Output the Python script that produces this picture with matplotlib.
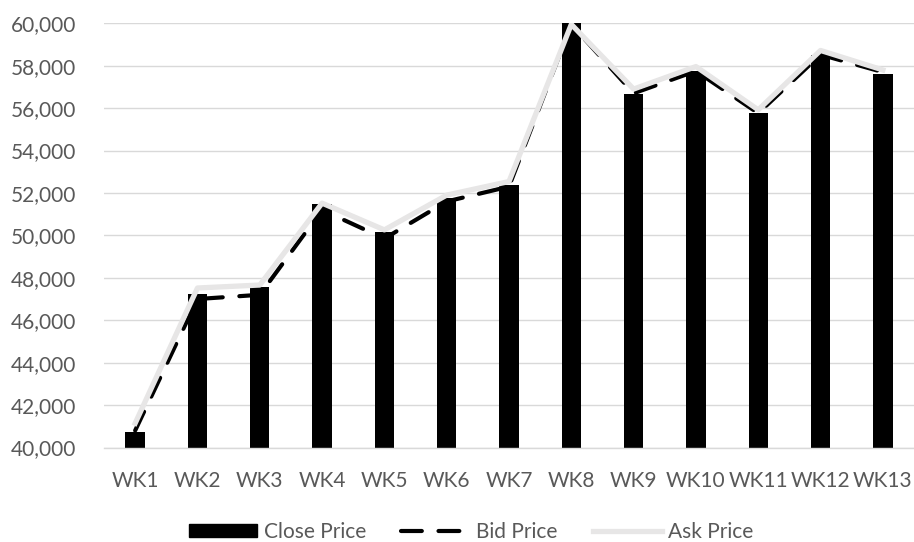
import matplotlib
matplotlib.use("Agg")
import matplotlib.pyplot as plt
from matplotlib.patches import Rectangle
from matplotlib.lines import Line2D
from matplotlib.ticker import FuncFormatter

weeks = ["WK1", "WK2", "WK3", "WK4", "WK5", "WK6", "WK7",
         "WK8", "WK9", "WK10", "WK11", "WK12", "WK13"]
close_price = [40750, 47240, 47560, 51490, 50150, 51750, 52380,
               60000, 56660, 57730, 55760, 58510, 57620]
bid_price = [40800, 47000, 47200, 51200, 49850, 51600, 52300,
             59950, 56700, 57750, 55760, 58520, 57700]
ask_price = [41140, 47520, 47660, 51520, 50260, 51900, 52540,
             59950, 56900, 57960, 55920, 58720, 57800]

plt.rcParams["font.family"] = ["Lato", "DejaVu Sans"]
text_color = "#595959"
grid_color = "#d9d9d9"
ask_color = "#e7e6e6"
bid_dashes = (5.0, 4.0)

fig = plt.figure(figsize=(9.14, 5.42), dpi=100)
ax = fig.add_axes([104 / 914, 94.5 / 542, 810 / 914, 424.2 / 542])

x = list(range(len(weeks)))
ax.bar(x, close_price, width=0.31, color="black", zorder=2)
ax.plot(x, bid_price, color="black", lw=3.0, zorder=3,
        dashes=bid_dashes, dash_capstyle="round")
ax.plot(x, ask_price, color=ask_color, lw=3.8, zorder=4)

ax.set_xlim(-0.5, len(weeks) - 0.5)
ax.set_ylim(40000, 60000)
ax.set_yticks(range(40000, 60001, 2000))
ax.yaxis.set_major_formatter(FuncFormatter(lambda v, p: f"{int(v):,}"))
ax.set_xticks(x)
ax.set_xticklabels(weeks)

ax.grid(axis="y", color=grid_color, lw=1.0, zorder=0)
ax.set_axisbelow(True)
for side in ("left", "right", "top"):
    ax.spines[side].set_visible(False)
ax.spines["bottom"].set_color(grid_color)
ax.spines["bottom"].set_linewidth(1.0)
ax.tick_params(axis="both", length=0, labelsize=15, labelcolor=text_color)
ax.tick_params(axis="y", pad=20)
ax.tick_params(axis="x", pad=17)

handles = [
    Rectangle((0, 0), 1, 1, color="black"),
    Line2D([], [], color="black", lw=3.0, dashes=bid_dashes, dash_capstyle="round"),
    Line2D([], [], color=ask_color, lw=3.8),
]
leg = fig.legend(handles, ["Close Price", "Bid Price", "Ask Price"],
                 loc="center", bbox_to_anchor=(471 / 914, 1 - 532 / 542),
                 ncol=3, frameon=False, fontsize=15, handlelength=3.3,
                 handleheight=0.6, handletextpad=0.3, columnspacing=1.7,
                 borderpad=0)
for t in leg.get_texts():
    t.set_color(text_color)

fig.savefig("out.png", dpi=100)
